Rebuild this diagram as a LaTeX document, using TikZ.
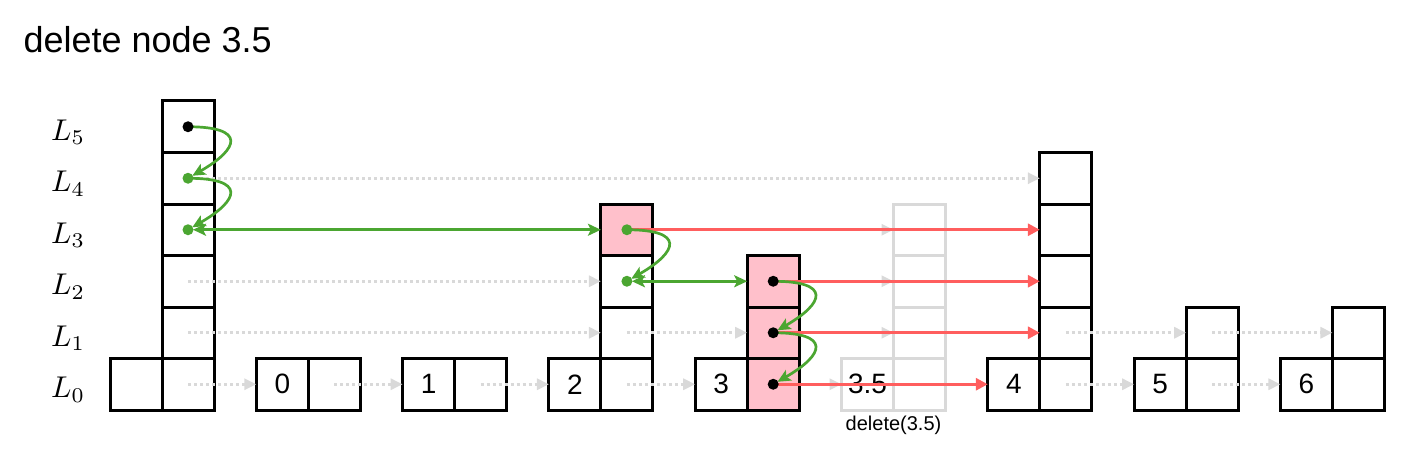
\documentclass[tikz,border=0pt]{standalone}
\usepackage{fontspec}
\setmainfont{Liberation Sans}
\usetikzlibrary{arrows.meta,positioning}
\definecolor{linkgreen}{HTML}{4BA631}
\definecolor{linkred}{HTML}{FF5E5E}
\definecolor{delpink}{HTML}{FFC0CB}
\definecolor{ghost}{HTML}{D9D9D9}

\begin{document}
\begin{tikzpicture}[x=1pt,y=1pt, every node/.style={font=\fontsize{28}{32}\selectfont},
  cell/.style={draw,line width=3pt,fill=white,minimum width=52pt,minimum height=51.5pt,inner sep=0pt,outer sep=0pt},
  gone/.style={cell,draw=ghost},
  hit/.style={cell,fill=delpink},
  dot/.style={circle,fill,inner sep=0pt,minimum size=11pt},
  lvl/.style={anchor=base west,inner sep=0pt,font=\normalsize},
  old/.style={draw=ghost,line width=3pt,dash pattern=on 3pt off 3pt,-{Triangle[length=12pt,width=11pt]}},
  cut/.style={draw=linkred,line width=3pt,-{Triangle[length=12pt,width=12pt]}},
  walk/.style={draw=linkgreen,line width=2.7pt,-{Stealth[length=13pt,width=12pt,inset=3pt]},shorten >=5pt},
  walkboth/.style={draw=linkgreen,line width=2.7pt,{Stealth[length=13pt,width=12pt,inset=3pt]}-{Stealth[length=13pt,width=12pt,inset=3pt]},shorten <=5pt}]
  \useasboundingbox (0,0) rectangle (1410,448);
  \node[anchor=base west,font=\fontsize{36}{40}\selectfont] (title) at (20,395) {delete node 3.5};
  \foreach \i in {0,...,5} \node[lvl] (l\i) at (51,{50.25+51.5*\i}) {\scalebox{3}{$L_{\i}$}};

  % head
  \node[cell] (hk) at (136,63.75) {};
  \foreach \i in {0,...,5} \node[cell] (h\i) at (188,{63.75+51.5*\i}) {};
  % nodes 0 and 1
  \node[cell] (ak) at (282.3,63.75) {0}; \node[cell] (a0) at (334.3,63.75) {};
  \node[cell] (bk) at (428.6,63.75) {1}; \node[cell] (b0) at (480.6,63.75) {};
  % node 2
  \node[cell] (ck) at (574.9,63.75) {2};
  \foreach \i in {0,...,2} \node[cell] (c\i) at (626.9,{63.75+51.5*\i}) {};
  \node[hit] (c3) at (626.9,218.25) {};
  % node 3
  \node[cell] (dk) at (721.2,63.75) {3};
  \foreach \i in {0,...,2} \node[hit] (d\i) at (773.2,{63.75+51.5*\i}) {};
  % node 3.5 (removed)
  \node[gone] (xk) at (867.5,63.75) {3.5};
  \foreach \i in {0,...,3} \node[gone] (x\i) at (919.5,{63.75+51.5*\i}) {};
  \node[inner sep=0pt,font=\fontsize{20}{24}\selectfont,below=6pt of x0.south west] (note) {delete(3.5)};
  % nodes 4, 5, 6
  \node[cell] (ek) at (1013.8,63.75) {4};
  \foreach \i in {0,...,4} \node[cell] (e\i) at (1065.8,{63.75+51.5*\i}) {};
  \node[cell] (fk) at (1160.1,63.75) {5};
  \foreach \i in {0,1} \node[cell] (f\i) at (1212.1,{63.75+51.5*\i}) {};
  \node[cell] (gk) at (1306.4,63.75) {6};
  \foreach \i in {0,1} \node[cell] (g\i) at (1358.4,{63.75+51.5*\i}) {};

  % untouched links
  \draw[old] (h0.center)--(ak.west); \draw[old] (a0.center)--(bk.west); \draw[old] (b0.center)--(ck.west);
  \draw[old] (c0.center)--(dk.west); \draw[old] (d0.center)--(xk.west);
  \draw[old] (h1.center)--(c1.west); \draw[old] (c1.center)--(d1.west); \draw[old] (d1.center)--(x1.west);
  \draw[old] (h2.center)--(c2.west); \draw[old] (d2.center)--(x2.west); \draw[old] (c3.center)--(x3.west);
  \draw[old] (h4.center)--(e4.west);
  \draw[old] (e0.center)--(fk.west); \draw[old] (e1.center)--(f1.west);
  \draw[old] (f0.center)--(gk.west); \draw[old] (f1.center)--(g1.west);

  % new links
  \draw[cut] (c3.center)--(e3.west); \draw[cut] (d2.center)--(e2.west);
  \draw[cut] (d1.center)--(e1.west); \draw[cut] (d0.center)--(ek.west);

  % search path
  \draw[walk] (h5.center) .. controls +(58,0) and +(52,30) .. (h4.center);
  \draw[walk] (h4.center) .. controls +(58,0) and +(52,30) .. (h3.center);
  \draw[walkboth] (h3.center)--(c3.west);
  \draw[walk] (c3.center) .. controls +(58,0) and +(52,30) .. (c2.center);
  \draw[walkboth] (c2.center)--(d2.west);
  \draw[walk] (d2.center) .. controls +(58,0) and +(52,30) .. (d1.center);
  \draw[walk] (d1.center) .. controls +(58,0) and +(52,30) .. (d0.center);

  \node[dot] (p5) at (h5) {}; \node[dot,linkgreen] (p4) at (h4) {}; \node[dot,linkgreen] (p3) at (h3) {};
  \node[dot,linkgreen] (q3) at (c3) {}; \node[dot,linkgreen] (q2) at (c2) {};
  \node[dot] (r2) at (d2) {}; \node[dot] (r1) at (d1) {}; \node[dot] (r0) at (d0) {};
\end{tikzpicture}
\end{document}
